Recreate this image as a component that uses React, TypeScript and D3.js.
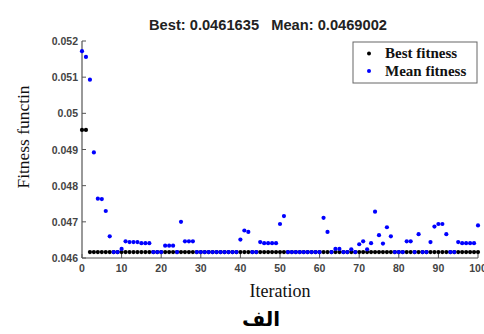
import React, { useEffect } from 'react'
import * as d3 from 'd3'

const B = 0.0461635

const xTicks = [0, 10, 20, 30, 40, 50, 60, 70, 80, 90, 100]
const yTicks = [0.046, 0.047, 0.048, 0.049, 0.05, 0.051, 0.052]

// best fitness per generation (0..100)
const bestFitness = [
  0.04954, 0.04954, B, B, B, B, B, B, B, B,
  B, B, B, B, B, B, B, B, B, B,
  B, B, B, B, B, B, B, B, B, B,
  B, B, B, B, B, B, B, B, B, B,
  B, B, B, B, B, B, B, B, B, B,
  B, B, B, B, B, B, B, B, B, B,
  B, B, B, B, B, B, B, B, B, B,
  B, B, B, B, B, B, B, B, B, B,
  B, B, B, B, B, B, B, B, B, B,
  B, B, B, B, B, B, B, B, B, B,
  B,
]

// mean fitness per generation (0..100)
const meanFitness = [
  0.05172, 0.05156, 0.05093, 0.04892, 0.04764, 0.04763, 0.0473, 0.0466, B, B,
  0.04625, 0.04646, 0.04644, 0.04644, 0.04644, 0.04641, 0.04641, 0.04641, B, B,
  B, 0.04634, 0.04634, 0.04634, B, 0.047, 0.04646, 0.04646, 0.04646, B,
  B, B, B, B, B, B, B, B, B, B,
  0.04651, 0.04676, 0.04672, B, B, 0.04644, 0.04641, 0.04641, 0.04641, 0.04641,
  0.04694, 0.04716, B, B, B, B, B, B, B, B,
  B, 0.04711, 0.04672, B, 0.04625, 0.04625, B, B, 0.04624, B,
  0.04638, 0.04646, 0.04624, 0.04641, 0.04728, 0.04663, 0.0464, 0.04685, 0.0466, B,
  B, B, 0.04646, 0.04646, B, 0.04666, B, B, 0.04644, 0.04687,
  0.04694, 0.04694, 0.04666, B, B, 0.04644, 0.04641, 0.04641, 0.04641, 0.04641,
  0.0469,
]

const seriesNames = ['Best fitness', 'Mean fitness']
const seriesColors = ['#000000', '#0000ff']

const W = 484
const H = 334
const margin = { left: 82, right: 6, top: 41, bottom: 76 }

const App: React.FC = () => {
  useEffect(() => {
    document.body.style.margin = '0'
  }, [])

  const x = d3.scaleLinear().domain([0, 100]).range([margin.left, W - margin.right])
  const y = d3.scaleLinear().domain([0.046, 0.052]).range([H - margin.bottom, margin.top])
  const axisColor = '#555'
  const tickFont = 'Arial, "Liberation Sans", sans-serif'
  const serif = '"Times New Roman", "Liberation Serif", serif'

  const series = [bestFitness, meanFitness]

  return (
    <svg width={W} height={H} style={{ display: 'block', background: '#fff' }}>
      <text x={268} y={30} textAnchor="middle" fontFamily={tickFont} fontWeight="bold" fontSize={14} fill="#222"
        textLength={238} lengthAdjust="spacingAndGlyphs">
        Best: 0.0461635{'\u00a0\u00a0\u00a0'}Mean: 0.0469002
      </text>

      {/* axes */}
      <line x1={x(0)} x2={x(0)} y1={y(0.052)} y2={y(0.046)} stroke={axisColor} strokeWidth={1.2} />
      <line x1={x(0)} x2={x(100)} y1={y(0.046)} y2={y(0.046)} stroke={axisColor} strokeWidth={1.2} />
      {yTicks.map(t => (
        <g key={t}>
          <line x1={x(0)} x2={x(0) + 4} y1={y(t)} y2={y(t)} stroke={axisColor} />
          <text x={x(0) - 4} y={y(t) + 4} textAnchor="end" fontFamily={tickFont} fontWeight="bold" fontSize={10.5} fill="#444">
            {String(t)}
          </text>
        </g>
      ))}
      {xTicks.map(t => (
        <g key={t}>
          <line x1={x(t)} x2={x(t)} y1={y(0.046)} y2={y(0.046) - 4} stroke={axisColor} />
          <text x={x(t)} y={y(0.046) + 14} textAnchor="middle" fontFamily={tickFont} fontWeight="bold" fontSize={10.5} fill="#444">
            {t}
          </text>
        </g>
      ))}

      {/* points */}
      {series.map((vals, si) => (
        <g key={si} fill={seriesColors[si]}>
          {vals.map((v, i) => (
            <circle key={i} cx={x(i)} cy={y(v)} r={2.1} />
          ))}
        </g>
      ))}

      {/* labels */}
      <text x={(x(0) + x(100)) / 2} y={297} textAnchor="middle" fontFamily={serif} fontSize={18} fill="#111">
        Iteration
      </text>
      <text
        transform={`translate(29, 137) rotate(-90)`}
        textAnchor="middle"
        fontFamily={serif}
        fontSize={17}
        fill="#111"
        textLength={103}
        lengthAdjust="spacingAndGlyphs"
      >
        Fitness functin
      </text>
      <text x={261} y={326} textAnchor="middle" fontFamily='"DejaVu Sans", sans-serif' fontWeight="bold" fontSize={20} fill="#000">
        الف
      </text>

      {/* legend */}
      <rect x={353} y={42} width={124} height={41} fill="#fff" stroke="#666" strokeWidth={1} />
      {seriesNames.map((n, i) => (
        <g key={n}>
          <circle cx={369} cy={53.5 + i * 17.5} r={2} fill={seriesColors[i]} />
          <text x={385} y={58 + i * 18} fontFamily={serif} fontWeight="bold" fontSize={15} fill="#111">
            {n}
          </text>
        </g>
      ))}
    </svg>
  )
}

export default App
